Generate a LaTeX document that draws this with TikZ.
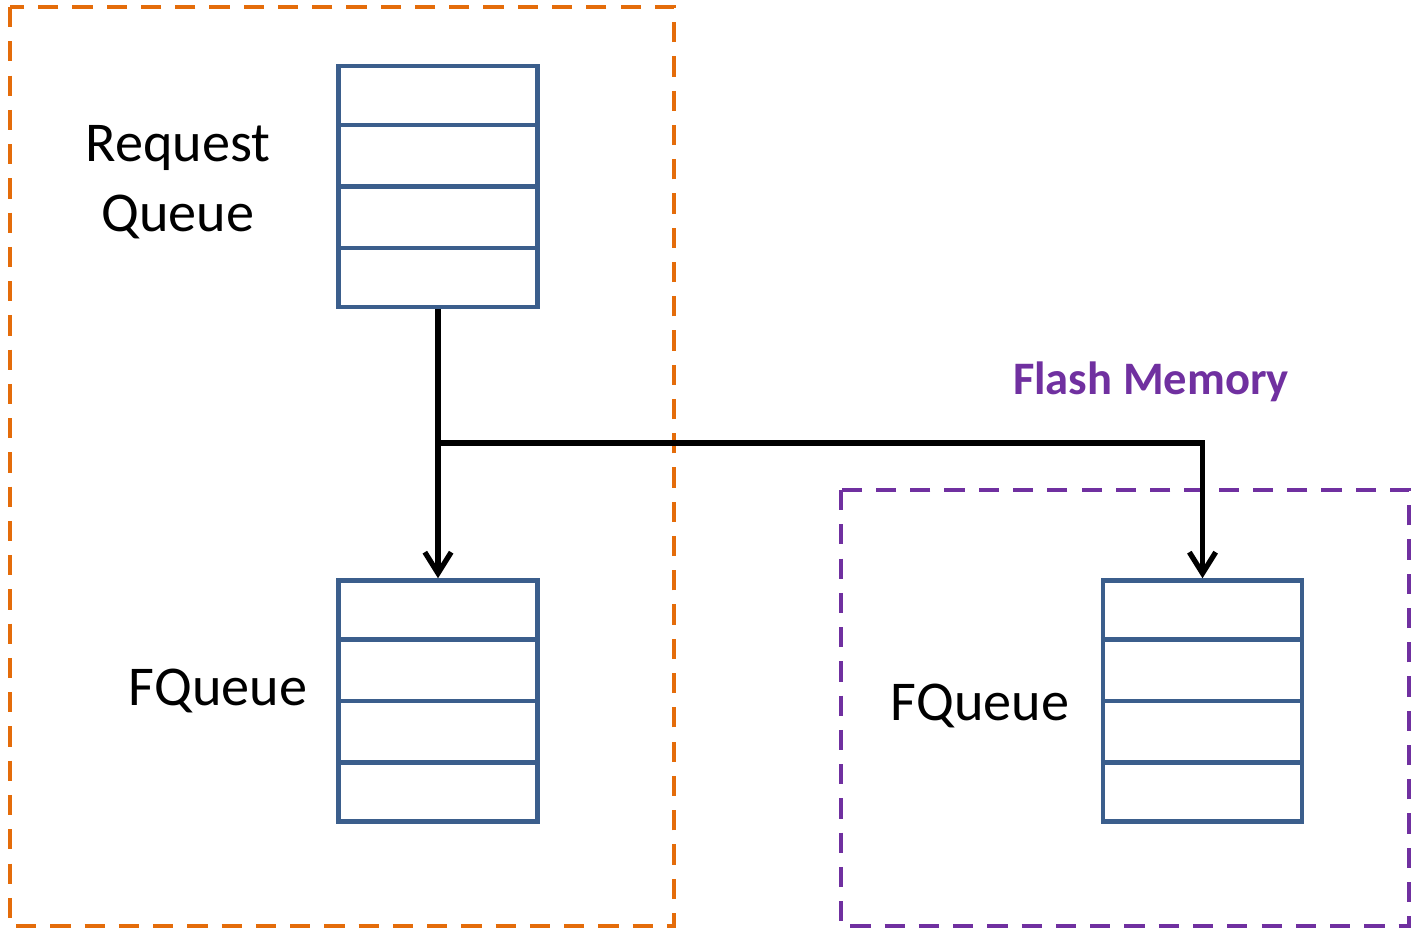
\documentclass[tikz,border=0pt]{standalone}
\usepackage{fontspec}
\setmainfont{Carlito}
\usetikzlibrary{arrows.meta,calc}
\definecolor{boxorange}{HTML}{E46C0A}
\definecolor{boxpurple}{HTML}{7030A0}
\definecolor{cellblue}{HTML}{3B5E8C}
\begin{document}
\begin{tikzpicture}[x=0.02cm,y=-0.02cm]
		\tikzstyle{queue}=[rectangle,draw=cellblue,line width=2.6pt,minimum width=3.98cm,minimum height=4.82cm,inner sep=0]
		\tikzstyle{cell}=[draw=cellblue,line width=2.6pt]
		\tikzstyle{edge}=[-{Straight Barb[length=12pt,width=15pt]},line width=3pt]
		\tikzstyle{lbl}=[align=center,font=\fontsize{32}{39.5}\selectfont]
		\tikzstyle{zone}=[line width=2.5pt,dash pattern=on 11.5pt off 8pt]
		
		\useasboundingbox (0,0) rectangle (1412,930);
		
		% the two zones
		\draw[zone,draw=boxorange] (10,7) rectangle (674,926);
		\draw[zone,draw=boxpurple] (841,490) rectangle (1409,926);
		\node [font=\bfseries\fontsize{26.5}{30}\selectfont,text=boxpurple] (flash) at (1151,382) {Flash Memory};
		
		% queues
		\node [queue] (rq)  at (438,186.5) {};
		\node [queue] (fq1) at (438,701) {};
		\node [queue] (fq2) at (1202.5,701) {};
		\foreach \q in {rq,fq1,fq2}
			\foreach \k in {1,2,3}
				\draw[cell] ($(\q.north west)!\k/4!(\q.south west)$) -- ($(\q.north east)!\k/4!(\q.south east)$);
		
		\node [lbl] (rqlabel)  at (178,182) {Request\\Queue};
		\node [lbl] (fq1label) at (218,691) {FQueue};
		\node [lbl] (fq2label) at (980,706) {FQueue};
		
		% dispatch
		\coordinate (split) at (rq.south |- 0,443);
		\draw[edge] (rq.south) -- (split) -- (fq1.north);
		\draw[edge] (split) -| (fq2.north);
	\end{tikzpicture}
\end{document}
